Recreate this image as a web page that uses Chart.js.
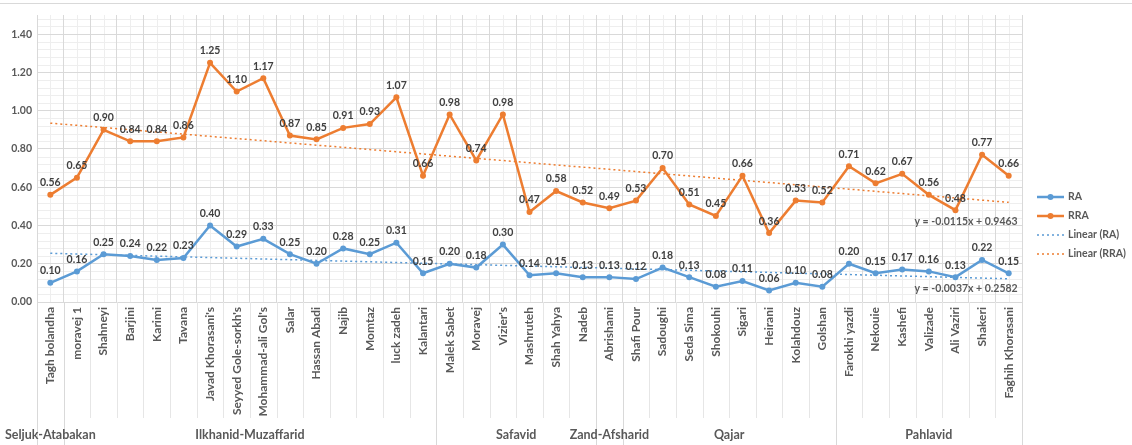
<!DOCTYPE html>
<html>
<head>
<meta charset="utf-8">
<script src="https://cdn.jsdelivr.net/npm/chart.js@4.4.1/dist/chart.umd.min.js"></script>
<style>
  body { margin: 0; background: #fff; }
  canvas { display: block; }
</style>
</head>
<body>
<canvas id="raChart" width="1132" height="445"></canvas>
<script>
const categories = [
  'Tagh bolandha', 'moravej 1', 'Shahneyi', 'Barjini', 'Karimi', 'Tavana',
  "Javad Khorasani's", "Seyyed Gole-sorkh's", "Mohammad-ali Gol's", 'Salar',
  'Hassan Abadi', 'Najib', 'Momtaz', 'luck zadeh', 'Kalantari',
  'Malek Sabet', 'Moravej', "Vizier's", 'Mashruteh', 'Shah Yahya', 'Nadeb',
  'Abrishami',
  'Shafi Pour', 'Sadoughi', 'Seda Sima', 'Shokouhi', 'Sigari', 'Heirani', 'Kolahdouz', 'Golshan',
  'Farokhi yazdi', 'Nekouie', 'Kashefi', 'Valizade', 'Ali Vaziri', 'Shakeri', 'Faghih Khorasani'
];
const raValues = [
  0.10, 0.16, 0.25, 0.24, 0.22, 0.23, 0.40, 0.29, 0.33, 0.25, 0.20, 0.28, 0.25, 0.31, 0.15,
  0.20, 0.18, 0.30, 0.14, 0.15, 0.13,
  0.13,
  0.12, 0.18, 0.13, 0.08, 0.11, 0.06, 0.10, 0.08,
  0.20, 0.15, 0.17, 0.16, 0.13, 0.22, 0.15
];
const rraValues = [
  0.56, 0.65, 0.90, 0.84, 0.84, 0.86, 1.25, 1.10, 1.17, 0.87, 0.85, 0.91, 0.93, 1.07, 0.66,
  0.98, 0.74, 0.98, 0.47, 0.58, 0.52,
  0.49,
  0.53, 0.70, 0.51, 0.45, 0.66, 0.36, 0.53, 0.52,
  0.71, 0.62, 0.67, 0.56, 0.48, 0.77, 0.66
];
const periods = ['Seljuk-Atabakan', 'Ilkhanid-Muzaffarid', 'Safavid', 'Zand-Afsharid', 'Qajar', 'Pahlavid'];
const periodSizes = [1, 14, 6, 1, 8, 7];
// linear fits (x = 1..n)
const raTrend = { slope: -0.0037, intercept: 0.2582 };
const rraTrend = { slope: -0.0115, intercept: 0.9463 };

const blue = '#5B9BD5';
const orange = '#ED7D31';
const textColor = '#595959';
const gridColor = '#d9d9d9';
const minorColor = '#eeeeee';
const fontFamily = 'Lato, "Open Sans", sans-serif';

function trendPoints(t) {
  return categories.map((_, i) => +(t.slope * (i + 1) + t.intercept).toFixed(4));
}

const decorPlugin = {
  id: 'decor',
  beforeDraw(chart) {
    const { ctx, chartArea: a, scales } = chart;
    ctx.save();
    ctx.fillStyle = '#fff';
    ctx.fillRect(0, 0, chart.width, chart.height);
    ctx.strokeStyle = gridColor;
    ctx.lineWidth = 1;
    ctx.beginPath();
    ctx.moveTo(0, 3.5);
    ctx.lineTo(chart.width, 3.5);
    ctx.stroke();
    // minor grid
    ctx.strokeStyle = minorColor;
    ctx.beginPath();
    for (let k = 1; k < 38; k++) {
      if (k % 5 === 0) continue;
      const y = Math.round(scales.y.getPixelForValue(k * 0.04)) + 0.5;
      ctx.moveTo(a.left, y);
      ctx.lineTo(a.right, y);
    }
    categories.forEach((_, i) => {
      const x = Math.round(scales.x.getPixelForValue(i)) + 0.5;
      ctx.moveTo(x, a.top);
      ctx.lineTo(x, a.bottom);
    });
    ctx.stroke();
    ctx.restore();
  },
  afterDatasetsDraw(chart) {
    const { ctx } = chart;
    ctx.save();
    ctx.font = 'bold 10.5px ' + fontFamily;
    ctx.fillStyle = '#404040';
    ctx.textAlign = 'center';
    ctx.textBaseline = 'middle';
    [0, 1].forEach(di => {
      const meta = chart.getDatasetMeta(di);
      const vals = chart.data.datasets[di].data;
      meta.data.forEach((pt, i) => {
        ctx.fillText(vals[i].toFixed(2), pt.x, pt.y - 12);
      });
    });
    ctx.restore();
  },
  afterDraw(chart) {
    const { ctx, chartArea: a, scales } = chart;
    const xs = scales.x;
    const step = (a.right - a.left) / categories.length;
    ctx.save();
    ctx.lineWidth = 1;
    // category separators under the axis
    ctx.strokeStyle = '#e6e6e6';
    ctx.beginPath();
    for (let i = 0; i <= categories.length; i++) {
      const x = Math.round(a.left + i * step) + 0.5;
      ctx.moveTo(x, a.bottom);
      ctx.lineTo(x, a.bottom + 116);
    }
    ctx.stroke();
    // period separators
    ctx.strokeStyle = gridColor;
    ctx.beginPath();
    let idx = 0;
    const bounds = [0];
    periodSizes.forEach(n => { idx += n; bounds.push(idx); });
    bounds.forEach(b => {
      const x = Math.round(a.left + b * step) + 0.5;
      ctx.moveTo(x, a.bottom);
      ctx.lineTo(x, chart.height);
    });
    ctx.stroke();

    ctx.font = 'bold 12.5px ' + fontFamily;
    ctx.fillStyle = textColor;
    ctx.textAlign = 'center';
    ctx.textBaseline = 'middle';
    periods.forEach((p, i) => {
      const x = a.left + (bounds[i] + bounds[i + 1]) / 2 * step;
      ctx.fillText(p, x, 435);
    });

    // trend equations
    ctx.font = 'bold 10.5px ' + fontFamily;
    ctx.textAlign = 'right';
    const xr = xs.getPixelForValue(categories.length - 1) + 9;
    ctx.fillText('y = ' + rraTrend.slope + 'x + ' + rraTrend.intercept, xr, scales.y.getPixelForValue(0.42));
    ctx.fillText('y = ' + raTrend.slope + 'x + ' + raTrend.intercept, xr, scales.y.getPixelForValue(0.068));

    // legend
    const items = [
      { label: 'RA', color: blue, dotted: false },
      { label: 'RRA', color: orange, dotted: false },
      { label: 'Linear (RA)', color: blue, dotted: true },
      { label: 'Linear (RRA)', color: orange, dotted: true }
    ];
    const lx = a.right + 15;
    ctx.font = 'bold 10.5px ' + fontFamily;
    ctx.textAlign = 'left';
    items.forEach((it, i) => {
      const y = 197 + i * 19;
      ctx.strokeStyle = it.color;
      ctx.lineWidth = it.dotted ? 1.5 : 2.5;
      ctx.setLineDash(it.dotted ? [2, 3] : []);
      ctx.beginPath();
      ctx.moveTo(lx, y);
      ctx.lineTo(lx + 27, y);
      ctx.stroke();
      ctx.setLineDash([]);
      if (!it.dotted) {
        ctx.fillStyle = it.color;
        ctx.beginPath();
        ctx.arc(lx + 13.5, y, 3, 0, Math.PI * 2);
        ctx.fill();
      }
      ctx.fillStyle = textColor;
      ctx.fillText(it.label, lx + 31, y);
    });
    ctx.restore();
  }
};

new Chart(document.getElementById('raChart'), {
  type: 'line',
  data: {
    labels: categories,
    datasets: [
      {
        label: 'RA', data: raValues, borderColor: blue, backgroundColor: blue,
        borderWidth: 2.5, pointRadius: 3, pointBorderWidth: 0, tension: 0
      },
      {
        label: 'RRA', data: rraValues, borderColor: orange, backgroundColor: orange,
        borderWidth: 2.5, pointRadius: 3, pointBorderWidth: 0, tension: 0
      },
      {
        label: 'Linear (RA)', data: trendPoints(raTrend), borderColor: blue,
        borderWidth: 1.5, borderDash: [2, 3], pointRadius: 0
      },
      {
        label: 'Linear (RRA)', data: trendPoints(rraTrend), borderColor: orange,
        borderWidth: 1.5, borderDash: [2, 3], pointRadius: 0
      }
    ]
  },
  options: {
    responsive: false,
    animation: false,
    devicePixelRatio: 1,
    layout: { padding: { top: 15, right: 110, left: 0, bottom: 0 } },
    plugins: { legend: { display: false }, tooltip: { enabled: false } },
    scales: {
      x: {
        offset: true,
        grid: { offset: true, color: gridColor, drawTicks: false },
        border: { color: gridColor },
        ticks: {
          autoSkip: false, minRotation: 90, maxRotation: 90, padding: 5,
          color: textColor, font: { family: fontFamily, size: 12, weight: 'bold' }
        },
        afterFit(s) { s.height = 143; }
      },
      y: {
        min: 0, max: 1.5,
        grid: { color: gridColor, drawTicks: false },
        border: { display: false },
        ticks: {
          stepSize: 0.2, padding: 5, color: textColor,
          font: { family: fontFamily, size: 10.5, weight: 'bold' },
          callback: v => v.toFixed(2)
        },
        afterBuildTicks(s) { s.ticks = s.ticks.filter(t => t.value < 1.45); },
        afterFit(s) { s.width = 37; }
      }
    }
  },
  plugins: [decorPlugin]
});
</script>
</body>
</html>
